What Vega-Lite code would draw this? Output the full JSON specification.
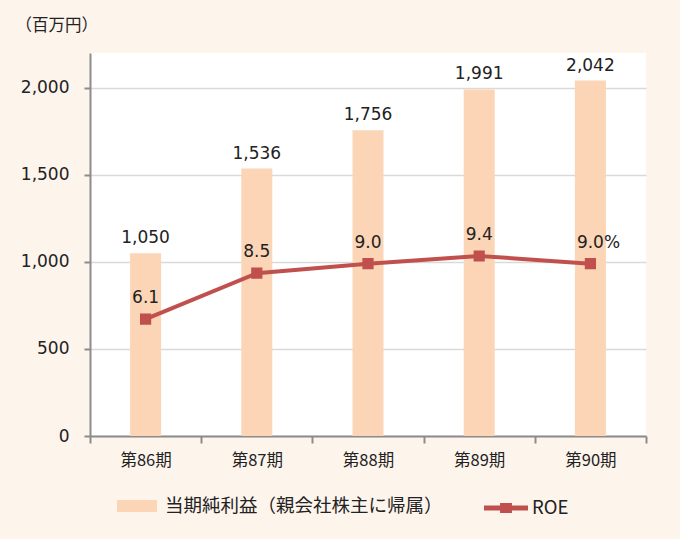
{
  "$schema": "https://vega.github.io/schema/vega-lite/v6.json",
  "width": 556,
  "height": 383,
  "autosize": "none",
  "padding": {"left": 90, "top": 53, "right": 34, "bottom": 103},
  "background": "#FDF4EC",
  "config": {
    "view": {"fill": "white", "stroke": null},
    "font": "Noto Sans CJK JP",
    "text": {"font": "DejaVu Sans"}
  },
  "data": {
    "values": [
      {"period": "第86期", "profit": 1050, "roe": 6.1, "roeLabel": "6.1"},
      {"period": "第87期", "profit": 1536, "roe": 8.5, "roeLabel": "8.5"},
      {"period": "第88期", "profit": 1756, "roe": 9.0, "roeLabel": "9.0"},
      {"period": "第89期", "profit": 1991, "roe": 9.4, "roeLabel": "9.4"},
      {"period": "第90期", "profit": 2042, "roe": 9.0, "roeLabel": "9.0%"}
    ]
  },
  "encoding": {
    "x": {
      "field": "period",
      "type": "nominal",
      "sort": null,
      "scale": {"paddingInner": 0, "paddingOuter": 0},
      "axis": {
        "title": null,
        "labelAngle": 0,
        "labelFontSize": 16.5,
        "labelColor": "#222",
        "labelPadding": 9,
        "tickBand": "extent",
        "tickSize": 7,
        "tickWidth": 2,
        "tickColor": "#8C8C8C",
        "domainColor": "#8C8C8C",
        "domainWidth": 2,
        "grid": false
      }
    }
  },
  "layer": [
    {
      "encoding": {
        "y": {
          "field": "profit",
          "type": "quantitative",
          "scale": {"domain": [0, 2200], "nice": false},
          "axis": {
            "values": [0, 500, 1000, 1500, 2000],
            "format": ",.0f",
            "labelFont": "DejaVu Sans",
            "labelFontSize": 17,
            "labelColor": "#222",
            "labelPadding": 15,
            "tickSize": 6,
            "tickWidth": 2,
            "tickColor": "#8C8C8C",
            "domainColor": "#8C8C8C",
            "domainWidth": 2,
            "gridColor": "#D9D9D9",
            "gridWidth": 1.5,
            "title": "（百万円）",
            "titleAngle": 0,
            "titleFontSize": 16.5,
            "titleFontWeight": "normal",
            "titleColor": "#222",
            "titleAlign": "left",
            "titleBaseline": "middle",
            "titleX": -75,
            "titleY": -28
          }
        }
      },
      "layer": [
        {
          "mark": {"type": "bar", "width": 31},
          "encoding": {
            "color": {
              "datum": "当期純利益（親会社株主に帰属）",
              "scale": {"range": ["#FBD5B5"]},
              "legend": {
                "orient": "none",
                "legendX": 27,
                "legendY": 433,
                "title": null,
                "padding": 0,
                "labelFontSize": 18.5,
                "labelColor": "#222",
                "labelOffset": 8,
                "labelLimit": 400,
                "symbolType": "M-1,-0.3H1V0.3H-1Z",
                "symbolSize": 1600,
                "symbolStrokeWidth": 0
              }
            }
          }
        },
        {
          "mark": {"type": "text", "baseline": "bottom", "dy": -6, "fontSize": 17, "color": "#222"},
          "encoding": {
            "text": {"field": "profit", "type": "quantitative", "format": ",.0f"}
          }
        }
      ]
    },
    {
      "encoding": {
        "y": {"field": "roe", "type": "quantitative", "scale": {"domain": [0, 20], "nice": false}, "axis": null}
      },
      "layer": [
        {
          "mark": {
            "type": "line",
            "strokeWidth": 4,
            "point": {"shape": "square", "size": 85, "filled": true, "color": "#C0504D"}
          },
          "encoding": {
            "stroke": {
              "datum": "ROE",
              "scale": {"range": ["#C0504D"]},
              "legend": {
                "orient": "none",
                "legendX": 394,
                "legendY": 433,
                "title": null,
                "padding": 0,
                "labelFontSize": 18.5,
                "labelColor": "#222",
                "labelOffset": 4,
                "symbolType": "M-1,-0.11H-0.27V-0.23H0.27V-0.11H1V0.11H0.27V0.23H-0.27V0.11H-1Z",
                "symbolSize": 1936,
                "symbolStrokeWidth": 0,
                "symbolFillColor": "#C0504D",
                "encode": {"symbols": {"update": {"fill": {"value": "#C0504D"}, "strokeWidth": {"value": 0}}}}
              }
            }
          }
        },
        {
          "mark": {"type": "text", "baseline": "bottom", "align": "left", "dx": -13.5, "dy": -12, "fontSize": 17, "color": "#222"},
          "encoding": {
            "text": {"field": "roeLabel", "type": "nominal"}
          }
        }
      ]
    }
  ],
  "resolve": {"scale": {"y": "independent", "color": "independent", "stroke": "independent"}}
}
